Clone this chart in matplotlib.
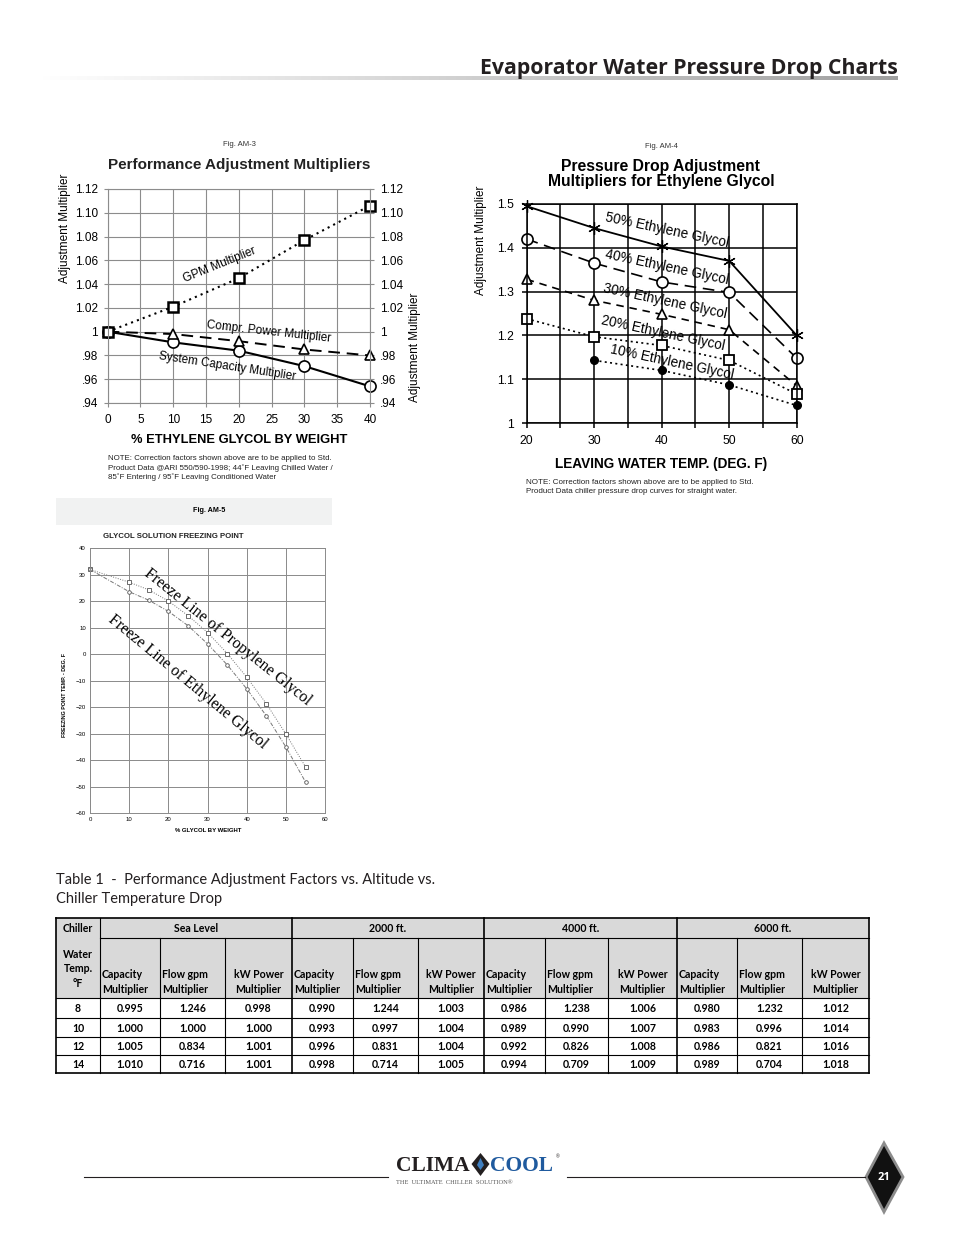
import matplotlib.pyplot as plt
import numpy as np
from matplotlib.patches import Polygon, Rectangle
from matplotlib.colors import LinearSegmentedColormap

# Fig. AM-3 : performance adjustment multipliers
am3_glycol = [0, 10, 20, 30, 40]
gpm_mult = [1.000, 1.021, 1.045, 1.077, 1.106]
power_mult = [1.000, 0.998, 0.992, 0.985, 0.980]
capacity_mult = [1.000, 0.991, 0.984, 0.971, 0.954]
am3_yticks = [0.94, 0.96, 0.98, 1.00, 1.02, 1.04, 1.06, 1.08, 1.10, 1.12]
am3_ylabels = [".94", ".96", ".98", "1", "1.02", "1.04", "1.06", "1.08", "1.10", "1.12"]

# Fig. AM-4 : pressure drop multipliers for ethylene glycol
am4_temp = [20, 30, 40, 50, 60]
eg50 = [1.495, 1.445, 1.403, 1.370, 1.200]
eg40 = [1.420, 1.365, 1.322, 1.298, 1.148]
eg30 = [1.328, 1.280, 1.248, 1.213, 1.085]
eg20 = [1.238, 1.197, 1.177, 1.143, 1.066]
eg10_temp = [30, 40, 50, 60]
eg10 = [1.143, 1.120, 1.087, 1.040]

# Fig. AM-5 : glycol solution freezing point
fp_glycol = [0, 10, 15, 20, 25, 30, 35, 40, 45, 50, 55]
propylene_fp = [32, 27.2, 24.3, 20.1, 14.6, 8.2, 0.3, -8.7, -18.7, -30.2, -42.6]
ethylene_fp = [32, 23.6, 20.4, 16.2, 10.8, 3.9, -4.0, -13.1, -23.3, -35.1, -48.3]

# Table 1
water_temp = [8, 10, 12, 14]
altitudes = ["Sea Level", "2000 ft.", "4000 ft.", "6000 ft."]
cap_sea = [0.995, 1.000, 1.005, 1.010]
flow_sea = [1.246, 1.000, 0.834, 0.716]
kw_sea = [0.998, 1.000, 1.001, 1.001]
cap_2000 = [0.990, 0.993, 0.996, 0.998]
flow_2000 = [1.244, 0.997, 0.831, 0.714]
kw_2000 = [1.003, 1.004, 1.004, 1.005]
cap_4000 = [0.986, 0.989, 0.992, 0.994]
flow_4000 = [1.238, 0.990, 0.826, 0.709]
kw_4000 = [1.006, 1.007, 1.008, 1.009]
cap_6000 = [0.980, 0.983, 0.986, 0.989]
flow_6000 = [1.232, 0.996, 0.821, 0.704]
kw_6000 = [1.012, 1.014, 1.016, 1.018]

W, H = 954, 1235
plt.rcParams['font.family'] = ['Liberation Sans', 'DejaVu Sans']

fig = plt.figure(figsize=(W / 100, H / 100), dpi=100)


def add_ax(x0, y0, x1, y1):
    return fig.add_axes([x0 / W, 1 - y1 / H, (x1 - x0) / W, (y1 - y0) / H])


page = fig.add_axes([0, 0, 1, 1])
page.axis('off')

# ---- page header
grad = np.linspace(0, 1, 256).reshape(1, -1)
gcmap = LinearSegmentedColormap.from_list('g', ['white', '#a0a0a0'])
page.imshow(grad, extent=(40, 898, 80.5, 76.5), aspect='auto', cmap=gcmap)
page.text(898, 74, "Evaporator Water Pressure Drop Charts", ha='right', va='baseline',
          fontsize=15.3, fontweight='bold', family='Open Sans', color='#231f20')

# ---- Fig. AM-3
ax = add_ax(107.7, 189, 370, 403)
ax.plot(am3_glycol, capacity_mult, color='black', lw=1.5, marker='o', ms=8,
        mfc='white', mec='black', mew=1.2, clip_on=False)
ax.plot(am3_glycol, power_mult, color='black', lw=1.4, ls=(0, (6, 3.5)), marker='^', ms=7.5,
        mfc='white', mec='black', mew=1.2, clip_on=False)
ax.plot(am3_glycol, gpm_mult, color='black', lw=1.5, ls=(0, (1, 2)), marker='s', ms=7,
        mfc='white', mec='black', mew=1.8, clip_on=False)
ax.set_xlim(0, 40)
ax.set_ylim(0.94, 1.12)
ax.set_xticks(range(0, 41, 5))
ax.set_yticks(am3_yticks)
ax.set_yticklabels(am3_ylabels)
ax.grid(color='#8c8c8c', lw=0.8)
for s in ax.spines.values():
    s.set_color('#8c8c8c')
    s.set_linewidth(0.8)
ax.tick_params(length=3, color='#8c8c8c', labelsize=8.5, right=True, labelright=True, pad=4)
ax.tick_params(axis='x', pad=5)
ax.text(17.1, 1.056, "GPM Multiplier", rotation=22, ha='center', va='center', fontsize=8.5)
ax.text(24.5, 0.9995, "Compr. Power Multiplier", rotation=-6.3, ha='center', va='center', fontsize=8.5)
ax.text(18.2, 0.9705, "System Capacity Multiplier", rotation=-8.7, ha='center', va='center', fontsize=8.5)

page.text(239, 144, "Fig. AM-3", ha='center', va='center', fontsize=5.5, color='#333333')
page.text(239, 165, "Performance Adjustment Multipliers", ha='center', va='center',
          fontsize=11, fontweight='bold', color='#222222')
page.text(65, 228, "Adjustment Multiplier", rotation=90, ha='center', va='center', fontsize=8.5)
page.text(415, 347, "Adjustment Multiplier", rotation=90, ha='center', va='center', fontsize=8.5)
page.text(239, 440, "% ETHYLENE GLYCOL BY WEIGHT", ha='center', va='center',
          fontsize=9.3, fontweight='bold')
page.text(108, 468, "NOTE: Correction factors shown above are to be applied to Std.\n"
          "Product Data @ARI 550/590-1998; 44\u02daF Leaving Chilled Water /\n"
          "85\u02daF Entering / 95\u02daF Leaving Conditioned Water",
          ha='left', va='center', fontsize=5.7, linespacing=1.25, color='#222222')

# ---- Fig. AM-4
ax4 = add_ax(526.7, 204, 796.7, 423)
ax4.plot(am4_temp, eg50, color='black', lw=1.3, marker=(6, 2, 0), ms=9, mew=0.9, clip_on=False)
ax4.plot(am4_temp, eg40, color='black', lw=1.2, ls=(0, (7, 4)), marker='o', ms=8,
         mfc='white', mew=1.2, clip_on=False)
ax4.plot(am4_temp, eg30, color='black', lw=1.2, ls=(0, (4.5, 3.5)), marker='^', ms=7.5,
         mfc='white', mew=1.2, clip_on=False)
ax4.plot(am4_temp, eg20, color='black', lw=1.2, ls=(0, (1.2, 2)), marker='s', ms=7,
         mfc='white', mew=1.3, clip_on=False)
ax4.plot(eg10_temp, eg10, color='black', lw=1.2, ls=(0, (1.2, 2)), marker='o', ms=5.5,
         clip_on=False)
ax4.set_xlim(20, 60)
ax4.set_ylim(1.0, 1.5)
ax4.set_xticks([20, 30, 40, 50, 60])
ax4.set_xticks([25, 35, 45, 55], minor=True)
ax4.set_yticks([1.0, 1.1, 1.2, 1.3, 1.4, 1.5])
ax4.set_yticklabels(["1", "1.1", "1.2", "1.3", "1.4", "1.5"])
ax4.grid(which='both', color='black', lw=1.1)
for s in ax4.spines.values():
    s.set_linewidth(1.1)
ax4.tick_params(which='both', length=3.5, width=1.1, labelsize=8.8, pad=5)
ax4.tick_params(axis='y', pad=6)
for lab, xx, yy in [("50% Ethylene Glycol", 40.8, 1.441), ("40% Ethylene Glycol", 40.8, 1.356),
                    ("30% Ethylene Glycol", 40.5, 1.279), ("20% Ethylene Glycol", 40.2, 1.205),
                    ("10% Ethylene Glycol", 41.5, 1.139)]:
    ax4.text(xx, yy, lab, rotation=-12, ha='center', va='center', fontsize=9.8)

page.text(661, 147, "Fig. AM-4", ha='center', va='center', fontsize=5.5, color='#333333')
page.text(661, 174, "Pressure Drop Adjustment\nMultipliers for Ethylene Glycol", ha='center',
          va='center', fontsize=11.3, fontweight='bold', linespacing=1.0)
page.text(481, 240, "Adjustment Multiplier", rotation=90, ha='center', va='center', fontsize=8.5)
page.text(661, 464, "LEAVING WATER TEMP. (DEG. F)", ha='center', va='center',
          fontsize=9.8, fontweight='bold')
page.text(526, 487, "NOTE: Correction factors shown above are to be applied to Std.\n"
          "Product Data chiller pressure drop curves for straight water.",
          ha='left', va='center', fontsize=5.8, linespacing=1.25, color='#222222')

# ---- Fig. AM-5
page.add_patch(Rectangle((56, 498), 276, 27, color='#f1f2f2', lw=0))
page.text(209, 511, "Fig. AM-5", ha='center', va='center', fontsize=5.2, fontweight='bold')
ax5 = add_ax(90, 548.3, 325.3, 813.3)
ax5.plot(fp_glycol, propylene_fp, color='#777777', lw=0.7, ls=(0, (1, 1.5)), marker='s', ms=2.6,
         mfc='white', mec='#555555', mew=0.6, clip_on=False)
ax5.plot(fp_glycol, ethylene_fp, color='#777777', lw=0.7, ls=(0, (4, 1.5, 1, 1.5)), marker='o',
         ms=2.6, mfc='white', mec='#555555', mew=0.6, clip_on=False)
ax5.set_xlim(0, 60)
ax5.set_ylim(-60, 40)
ax5.set_xticks(range(0, 61, 10))
ax5.set_yticks(range(-60, 41, 10))
ax5.grid(color='#8a8a8a', lw=0.7)
for s in ax5.spines.values():
    s.set_color('#8a8a8a')
    s.set_linewidth(0.7)
ax5.tick_params(length=0, labelsize=4.3, pad=3)
ax5.text(35.2, 6.5, "Freeze Line of Propylene Glycol", rotation=-38.7, ha='center', va='center',
         fontsize=11.5, family='Liberation Serif')
ax5.text(25.0, -10.5, "Freeze Line of Ethylene Glycol", rotation=-39.6, ha='center', va='center',
         fontsize=11.5, family='Liberation Serif')
page.text(103, 537, "GLYCOL SOLUTION FREEZING POINT", ha='left', va='center', fontsize=5.6,
          fontweight='bold', color='#222222')
page.text(65, 695, "FREEZING POINT TEMP. - DEG. F", rotation=90, ha='center', va='center',
          fontsize=3.8, fontweight='bold')
page.text(208, 830, "% GLYCOL BY WEIGHT", ha='center', va='center', fontsize=4.3,
          fontweight='bold')

# ---- Table 1
page.text(56, 880, "Table 1  -  Performance Adjustment Factors vs. Altitude vs.", ha='left',
          va='center', fontsize=10.5, family='Lato', color='#231f20')
page.text(56, 899, "Chiller Temperature Drop", ha='left', va='center', fontsize=10.5,
          family='Lato', color='#231f20')

col_x = [56, 100, 160, 225, 292, 353, 418, 484, 545, 608, 677, 737, 802, 869]
row_y = [918, 938, 998, 1018, 1037, 1055, 1073]
page.add_patch(Rectangle((col_x[0], row_y[0]), col_x[-1] - col_x[0], row_y[2] - row_y[0],
                         color='#d9d9d9', lw=0))
tf = dict(family='Lato', fontweight='bold', fontsize=7.6, color='black')
page.text(78, 928, "Chiller", ha='center', va='center', **tf)
page.text(78, 969, "Water\nTemp.\n\u00b0F", ha='center', va='center', linespacing=1.4, **tf)
for g, name in enumerate(altitudes):
    x0, x1 = col_x[1 + 3 * g], col_x[4 + 3 * g]
    page.text((x0 + x1) / 2, 929, name, ha='center', va='center', **tf)
    page.text(col_x[1 + 3 * g] + 2, 982, "Capacity\nMultiplier", ha='left', va='center',
              linespacing=1.4, **tf)
    page.text(col_x[2 + 3 * g] + 2, 982, "Flow gpm\nMultiplier", ha='left', va='center',
              linespacing=1.4, **tf)
    page.text((col_x[3 + 3 * g] + col_x[4 + 3 * g]) / 2, 982, "kW Power\nMultiplier",
              ha='center', va='center', linespacing=1.4, multialignment='center', **tf)

table_cols = [water_temp, cap_sea, flow_sea, kw_sea, cap_2000, flow_2000, kw_2000,
              cap_4000, flow_4000, kw_4000, cap_6000, flow_6000, kw_6000]
for c, vals in enumerate(table_cols):
    xc = (col_x[c] + col_x[c + 1]) / 2
    for r, v in enumerate(vals):
        yc = (row_y[2 + r] + row_y[3 + r]) / 2
        txt = str(v) if c == 0 else "%.3f" % v
        page.text(xc, yc + 0.5, txt, ha='center', va='center', **tf)

# table rules
page.plot([col_x[0], col_x[-1]], [row_y[0], row_y[0]], color='black', lw=1.2)
page.plot([col_x[1], col_x[-1]], [row_y[1], row_y[1]], color='black', lw=0.8)
for yy in row_y[2:-1]:
    page.plot([col_x[0], col_x[-1]], [yy, yy], color='black', lw=0.8)
page.plot([col_x[0], col_x[-1]], [row_y[-1], row_y[-1]], color='black', lw=1.2)
for i, xx in enumerate(col_x):
    if i in (0, 1, 4, 7, 10, 13):
        lw = 1.2 if i in (0, 13, 4, 7, 10) else 0.8
        page.plot([xx, xx], [row_y[0], row_y[-1]], color='black', lw=lw)
    else:
        page.plot([xx, xx], [row_y[1], row_y[-1]], color='black', lw=0.8)

# ---- footer
page.plot([84, 388], [1177, 1177], color='#231f20', lw=0.8)
page.plot([567, 865], [1177, 1177], color='#231f20', lw=0.8)
page.text(396, 1166, "CLIMA", ha='left', va='center', fontsize=15.5, fontweight='bold',
          family='Liberation Serif', color='#231f20')
page.text(490, 1166, "COOL", ha='left', va='center', fontsize=15.5, fontweight='bold',
          family='Liberation Serif', color='#1f5a9e')
page.text(556, 1157, "\u00ae", ha='left', va='center', fontsize=3.5, color='#231f20')
page.add_patch(Polygon([(480.5, 1153), (489.5, 1164), (480.5, 1176), (471.5, 1164)],
                       closed=True, fc='#231f20', ec='none'))
page.add_patch(Polygon([(480.5, 1158), (484, 1165), (480.5, 1170), (477, 1165)],
                       closed=True, fc='#3f7fc0', ec='none'))
page.text(396, 1183, "THE  ULTIMATE  CHILLER  SOLUTION\u00ae", ha='left', va='center',
          fontsize=4.6, family='Liberation Serif', color='#555555')
page.add_patch(Polygon([(884, 1143), (903, 1177), (884, 1212), (866, 1177)], closed=True,
                       fc='#111111', ec='#8c8c8c', lw=2))
page.text(884, 1178, "21", ha='center', va='center', fontsize=8, fontweight='bold',
          color='white', family='Open Sans')

page.set_xlim(0, W)
page.set_ylim(H, 0)

fig.savefig("out.png", dpi=100)
